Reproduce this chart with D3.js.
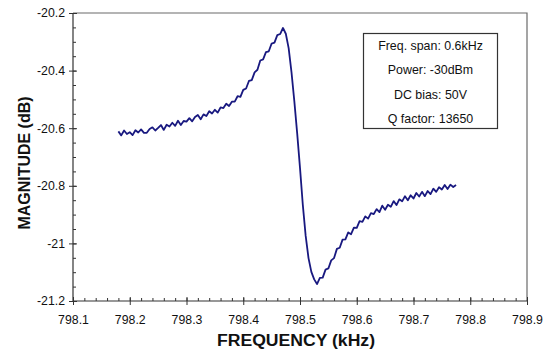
<!DOCTYPE html>
<html><head><meta charset="utf-8">
<script src="https://cdn.jsdelivr.net/npm/d3@7"></script>
<style>
html,body{margin:0;padding:0;background:#fff;}
svg{display:block;font-family:Arial,"Liberation Sans",sans-serif;}
</style></head>
<body>
<svg id="chart" width="551" height="354"></svg>
<script>
const freq = [
798.180,798.185,798.190,798.195,798.200,798.205,798.210,798.215,798.220,798.225,
798.230,798.235,798.240,798.245,798.250,798.255,798.260,798.265,798.270,798.275,
798.280,798.285,798.290,798.295,798.300,798.305,798.310,798.315,798.320,798.325,
798.330,798.335,798.340,798.345,798.350,798.355,798.360,798.365,798.370,798.375,
798.380,798.385,798.390,798.395,798.400,798.405,798.410,798.415,798.420,798.425,
798.430,798.435,798.440,798.445,798.450,798.455,798.460,798.465,798.470,798.475,
798.480,798.485,798.490,798.495,798.500,798.505,798.510,798.515,798.520,798.525,
798.530,798.535,798.540,798.545,798.550,798.555,798.560,798.565,798.570,798.575,
798.580,798.585,798.590,798.595,798.600,798.605,798.610,798.615,798.620,798.625,
798.630,798.635,798.640,798.645,798.650,798.655,798.660,798.665,798.670,798.675,
798.680,798.685,798.690,798.695,798.700,798.705,798.710,798.715,798.720,798.725,
798.730,798.735,798.740,798.745,798.750,798.755,798.760,798.765,798.770,798.775];
const magnitude = [
-20.611,-20.625,-20.608,-20.620,-20.614,-20.624,-20.607,-20.615,-20.604,-20.616,
-20.616,-20.603,-20.597,-20.608,-20.599,-20.589,-20.606,-20.588,-20.594,-20.581,
-20.592,-20.574,-20.589,-20.575,-20.577,-20.565,-20.576,-20.561,-20.554,-20.569,
-20.552,-20.558,-20.541,-20.549,-20.536,-20.546,-20.528,-20.530,-20.515,-20.523,
-20.508,-20.508,-20.489,-20.491,-20.467,-20.462,-20.436,-20.433,-20.406,-20.397,
-20.365,-20.361,-20.336,-20.333,-20.306,-20.303,-20.277,-20.273,-20.252,-20.272,
-20.322,-20.405,-20.506,-20.617,-20.738,-20.867,-20.974,-21.051,-21.099,-21.125,
-21.141,-21.120,-21.119,-21.091,-21.087,-21.059,-21.051,-21.019,-21.015,-20.987,
-20.986,-20.962,-20.968,-20.945,-20.946,-20.923,-20.925,-20.906,-20.914,-20.895,
-20.898,-20.881,-20.891,-20.869,-20.883,-20.866,-20.873,-20.853,-20.867,-20.847,
-20.854,-20.836,-20.850,-20.833,-20.844,-20.825,-20.837,-20.821,-20.836,-20.818,
-20.829,-20.810,-20.821,-20.805,-20.813,-20.797,-20.811,-20.796,-20.804,-20.797];
const xTicks = [798.1,798.2,798.3,798.4,798.5,798.6,798.7,798.8,798.9];
const xTickLabels = ["798.1","798.2","798.3","798.4","798.5","798.6","798.7","798.8","798.9"];
const yTicks = [-20.2,-20.4,-20.6,-20.8,-21,-21.2];
const yTickLabels = ["-20.2","-20.4","-20.6","-20.8","-21","-21.2"];
const xMinor = [];
for (let i = 0; i <= 40; i++) xMinor.push(798.1 + i*0.02);
const yMinor = [];
for (let i = 0; i <= 20; i++) yMinor.push(-20.2 - i*0.05);
const legendLines = ["Freq. span: 0.6kHz","Power: -30dBm","DC bias: 50V","Q factor: 13650"];
const xTitle = "FREQUENCY (kHz)";
const yTitle = "MAGNITUDE (dB)";

const L = 73, T = 13, R = 527, B = 301;
const svg = d3.select("#chart");
const x = d3.scaleLinear().domain([798.1, 798.9]).range([L, R]);
const y = d3.scaleLinear().domain([-21.2, -20.2]).range([B, T]);

// frame (top, right)
svg.append("path").attr("d", `M${L},${T}H${R}V${B}`).attr("fill","none").attr("stroke","#6a6a6a").attr("stroke-width",1.2);

// minor ticks (inside)
const xMinorAx = d3.axisBottom(x).tickValues(xMinor).tickSize(-3).tickFormat("");
svg.append("g").attr("transform",`translate(0,${B})`).call(xMinorAx)
  .call(g => g.select(".domain").remove()).selectAll("line").attr("stroke","#333");
const yMinorAx = d3.axisLeft(y).tickValues(yMinor).tickSize(-3).tickFormat("");
svg.append("g").attr("transform",`translate(${L},0)`).call(yMinorAx)
  .call(g => g.select(".domain").remove()).selectAll("line").attr("stroke","#333");

// major ticks and labels
const xAx = d3.axisBottom(x).tickValues(xTicks).tickSize(4).tickPadding(10)
  .tickFormat((d,i) => xTickLabels[i]);
const gx = svg.append("g").attr("transform",`translate(0,${B})`).call(xAx);
gx.select(".domain").remove();
gx.selectAll("line").attr("stroke","#333").attr("y1",-4);
gx.selectAll("text").attr("font-size",12.3).attr("fill","#111").attr("font-family","Arial, 'Liberation Sans', sans-serif");

const yAx = d3.axisLeft(y).tickValues(yTicks).tickSize(4).tickPadding(4)
  .tickFormat((d,i) => yTickLabels[i]);
const gy = svg.append("g").attr("transform",`translate(${L},0)`).call(yAx);
gy.select(".domain").remove();
gy.selectAll("line").attr("stroke","#333").attr("x1",4);
gy.selectAll("text").attr("font-size",12.3).attr("fill","#111").attr("font-family","Arial, 'Liberation Sans', sans-serif");

// axis lines
svg.append("line").attr("x1",L).attr("x2",R).attr("y1",B).attr("y2",B).attr("stroke","#333").attr("stroke-width",1.2);
svg.append("line").attr("x1",L).attr("x2",L).attr("y1",T).attr("y2",B).attr("stroke","#333").attr("stroke-width",1.2);

// data line
const pts = freq.map((f,i) => [f, magnitude[i]]);
svg.append("path").datum(pts)
  .attr("d", d3.line().x(d => x(d[0])).y(d => y(d[1])))
  .attr("fill","none").attr("stroke","#191980").attr("stroke-width",1.8).attr("stroke-linejoin","round");

// titles
svg.append("text").attr("x",296).attr("y",346).attr("text-anchor","middle")
  .attr("font-size",16).attr("font-weight","bold").attr("fill","#111")
  .attr("textLength",158).attr("lengthAdjust","spacingAndGlyphs").text(xTitle);
svg.append("text").attr("transform","translate(30,163) rotate(-90)").attr("text-anchor","middle")
  .attr("font-size",17).attr("font-weight","bold").attr("fill","#111")
  .attr("textLength",133).attr("lengthAdjust","spacingAndGlyphs").text(yTitle);

// legend box
svg.append("rect").attr("x",363.5).attr("y",33.5).attr("width",134).attr("height",95)
  .attr("fill","#fff").attr("stroke","#333").attr("stroke-width",1.2);
const lg = svg.append("g");
legendLines.forEach((t,i) => {
  lg.append("text").attr("x",430.5).attr("y",45.5 + i*24.5).attr("dy","0.35em")
    .attr("text-anchor","middle").attr("font-size",12.4).attr("fill","#111").text(t);
});
</script>
</body></html>
